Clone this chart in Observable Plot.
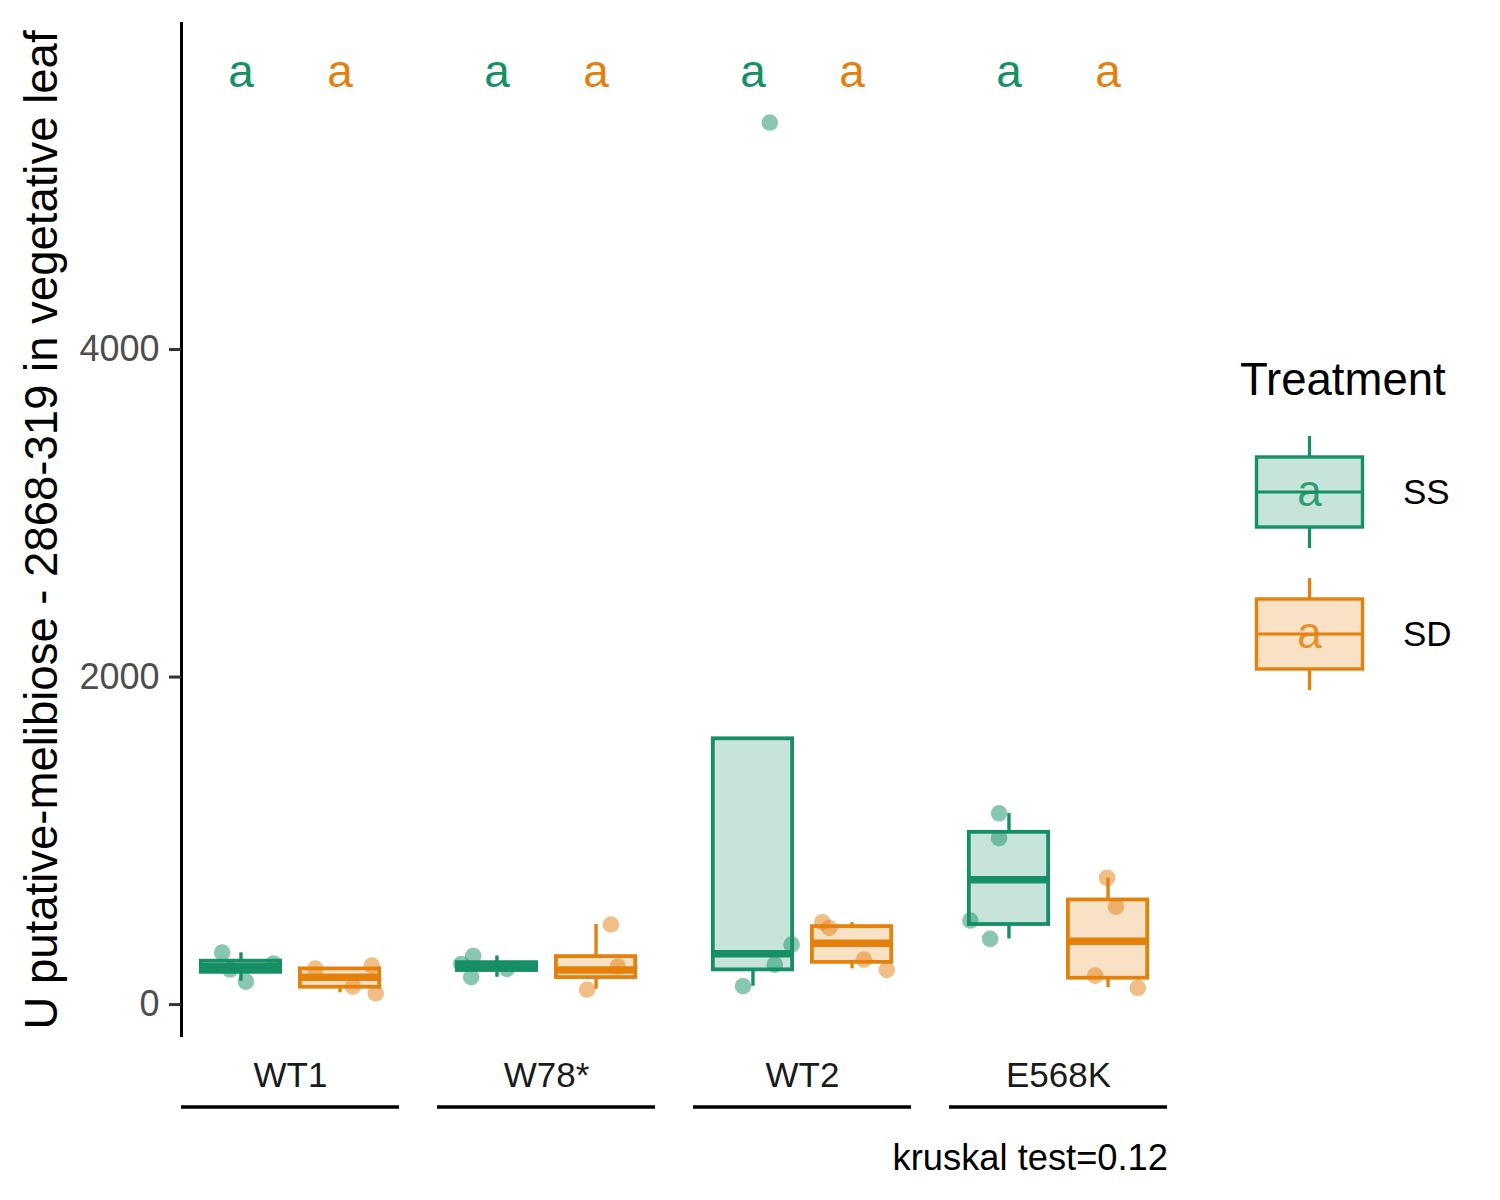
<!DOCTYPE html>
<html><head><meta charset="utf-8">
<script src="https://cdn.jsdelivr.net/npm/d3@7"></script>
<script src="https://cdn.jsdelivr.net/npm/@observablehq/plot@0.6"></script>
<style>
body{margin:0;background:#fff;font-family:"Liberation Sans",Arial,sans-serif;}
#wrap{position:relative;width:1500px;height:1200px;}
#ylab{position:absolute;left:42px;top:530px;transform:translate(-50%,-50%) rotate(-90deg);font-size:45.5px;line-height:1;white-space:nowrap;color:#000;}
#cap{position:absolute;right:332px;top:1140px;font-size:36.3px;line-height:1;color:#000;white-space:nowrap;}
</style></head><body>
<div id="wrap"><div id="ylab">U putative-melibiose - 2868-319 in vegetative leaf</div><div id="cap">kruskal test=0.12</div></div>
<script>
// ---- data ----
const genotypes = ["WT1", "W78*", "WT2", "E568K"];
const treatments = ["SS", "SD"];
const colors = ["#168F64", "#E4800C"];
// box statistics, order: WT1-SS, WT1-SD, W78*-SS, W78*-SD, WT2-SS, WT2-SD, E568K-SS, E568K-SD
const boxGenotype  = ["WT1","WT1","W78*","W78*","WT2","WT2","E568K","E568K"];
const boxTreatment = ["SS","SD","SS","SD","SS","SD","SS","SD"];
const whiskerLow  = [142, 72, 167, 94, 112, 218, 401, 104];
const q1          = [197, 106, 208, 165, 212, 258, 489, 161];
const median      = [232, 167, 232, 211, 310, 374, 763, 387];
const q3          = [265, 218, 256, 293, 1623, 476, 1052, 639];
const whiskerHigh = [316, 225, 297, 489, 1623, 501, 1166, 772];
// jittered observations
const ptGenotype  = ["WT1","WT1","WT1","WT1", "WT1","WT1","WT1","WT1",
                     "W78*","W78*","W78*","W78*", "W78*","W78*","W78*",
                     "WT2","WT2","WT2","WT2", "WT2","WT2","WT2","WT2",
                     "E568K","E568K","E568K","E568K", "E568K","E568K","E568K","E568K"];
const ptTreatment = ["SS","SS","SS","SS", "SD","SD","SD","SD",
                     "SS","SS","SS","SS", "SD","SD","SD",
                     "SS","SS","SS","SS", "SD","SD","SD","SD",
                     "SS","SS","SS","SS", "SD","SD","SD","SD"];
const ptValue     = [318, 214, 250, 140, 220, 238, 110, 69,
                     248, 297, 167, 218, 489, 232, 92,
                     112, 244, 366, 5386, 503, 468, 275, 212,
                     1168, 1016, 513, 401, 774, 598, 177, 102];
const ptJitter    = [-0.19, -0.11, 0.33, 0.05, -0.25, 0.32, 0.13, 0.36,
                     -0.36, -0.24, -0.26, 0.10, 0.15, 0.22, -0.09,
                     -0.10, 0.22, 0.39, 0.17, -0.30, -0.23, 0.12, 0.35,
                     -0.10, -0.10, -0.39, -0.19, -0.01, 0.08, -0.13, 0.30];
const letterText = ["a","a","a","a","a","a","a","a"];
const letterY = 5692;
const yTicks = [0, 2000, 4000];
const yDomain = [-201, 5997];
const xDomain = [0.4, 2.6];
const yTitle = "U putative-melibiose - 2868-319 in vegetative leaf";
const legendTitle = "Treatment";

// ---- tables ----
const pos = t => treatments.indexOf(t) + 1;
const boxes = boxGenotype.map((g, i) => ({g, t: boxTreatment[i], lo: whiskerLow[i], q1: q1[i], med: median[i], q3: q3[i], hi: whiskerHigh[i], letter: letterText[i]}));
const points = ptGenotype.map((g, i) => ({g, t: ptTreatment[i], v: ptValue[i], j: ptJitter[i]}));

const plot = Plot.plot({
  width: 1500, height: 1200,
  marginLeft: 180, marginRight: 331, marginTop: 22, marginBottom: 163,
  style: {fontFamily: "'Liberation Sans', Arial, sans-serif", background: "#fff", overflow: "visible"},
  fx: {domain: genotypes, paddingInner: 38/257, paddingOuter: 0, label: null},
  x: {domain: xDomain, axis: null},
  y: {domain: yDomain},
  color: {domain: treatments, range: colors},
  marks: [
    Plot.ruleX(boxes, {fx: "g", x: d => pos(d.t), y1: "q3", y2: "hi", stroke: "t", strokeWidth: 3.4}),
    Plot.ruleX(boxes, {fx: "g", x: d => pos(d.t), y1: "lo", y2: "q1", stroke: "t", strokeWidth: 3.4}),
    Plot.rect(boxes, {fx: "g", x1: d => pos(d.t) - 0.4, x2: d => pos(d.t) + 0.4, y1: "q1", y2: "q3", fill: "t", fillOpacity: 0.24, stroke: "t", strokeWidth: 3.8}),
    Plot.ruleY(boxes, {fx: "g", x1: d => pos(d.t) - 0.4, x2: d => pos(d.t) + 0.4, y: "med", stroke: "t", strokeWidth: 7.5}),
    Plot.dot(points, {fx: "g", x: d => pos(d.t) + d.j, y: "v", r: 8.3, fill: "t", fillOpacity: 0.5, stroke: null}),
    Plot.text(boxes, {fx: "g", x: d => pos(d.t), y: () => letterY, text: "letter", fill: "t", fontSize: 46, lineAnchor: "middle"}),
    Plot.ruleX(genotypes.slice(0, 1), {fx: d => d, x: () => xDomain[0], y1: () => yDomain[0], y2: () => yDomain[1], stroke: "#000", strokeWidth: 3}),
    Plot.axisY({ticks: yTicks, tickFormat: d => String(d), tickSize: 12, tickPadding: 10, fontSize: 36, label: null, stroke: "#333", strokeWidth: 3, fill: "#4d4d4d"}),
    Plot.axisFx({anchor: "bottom", tickSize: 0, tickPadding: 25, fontSize: 35, label: null, fill: "#1a1a1a"})
  ]
});
const wrap = document.getElementById("wrap");
wrap.insertBefore(plot, wrap.firstChild);

// strip lines under each facet
const fx = plot.scale("fx");
const svg = d3.select(plot);
const panelBottom = 1200 - 163;
genotypes.forEach(g => {
  const left = fx.apply(g);
  svg.append("line").attr("x1", left).attr("x2", left + fx.bandwidth)
    .attr("y1", panelBottom + 70).attr("y2", panelBottom + 70)
    .attr("stroke", "#000").attr("stroke-width", 3.5);
});

// legend
const color = plot.scale("color");
const leg = d3.select(wrap).append("svg").attr("width", 1500).attr("height", 1200)
  .style("position", "absolute").style("left", 0).style("top", 0)
  .style("font-family", "'Liberation Sans', Arial, sans-serif");
leg.append("text").attr("x", 1240).attr("y", 395).attr("font-size", 45.5).attr("fill", "#000").text(legendTitle);
treatments.forEach((t, i) => {
  const cy = 492 + i * 142, cx = 1309.5, c = color.apply(t);
  const gk = leg.append("g");
  gk.append("line").attr("x1", cx).attr("x2", cx).attr("y1", cy - 56).attr("y2", cy - 35).attr("stroke", c).attr("stroke-width", 3.2);
  gk.append("line").attr("x1", cx).attr("x2", cx).attr("y1", cy + 35).attr("y2", cy + 56).attr("stroke", c).attr("stroke-width", 3.2);
  gk.append("rect").attr("x", cx - 53).attr("y", cy - 35).attr("width", 106).attr("height", 70)
    .attr("fill", c).attr("fill-opacity", 0.24).attr("stroke", c).attr("stroke-width", 3.4);
  gk.append("line").attr("x1", cx - 53).attr("x2", cx + 53).attr("y1", cy).attr("y2", cy).attr("stroke", c).attr("stroke-width", 3.2);
  gk.append("text").attr("x", cx).attr("y", cy).attr("dy", "0.32em").attr("text-anchor", "middle").attr("font-size", 44).attr("fill", c).attr("fill-opacity", 0.85).text(letterText[0]);
  leg.append("text").attr("x", 1403).attr("y", cy).attr("dy", "0.35em").attr("font-size", 35).attr("fill", "#000").text(t);
});
</script>
</body></html>
